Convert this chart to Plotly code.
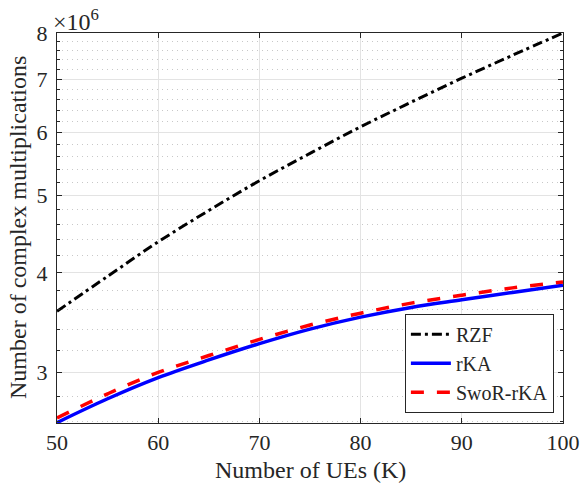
import plotly.graph_objects as go
import numpy as np

K = [50, 55, 60, 65, 70, 75, 80, 85, 90, 95, 100]
rzf = [3.58e6, 3.96e6, 4.375e6, 4.79e6, 5.22e6, 5.65e6, 6.10e6, 6.55e6, 7.02e6, 7.50e6, 8.0e6]
rka = [2.595e6, 2.78e6, 2.955e6, 3.11e6, 3.26e6, 3.40e6, 3.52e6, 3.62e6, 3.70e6, 3.78e6, 3.86e6]
swor_rka = [2.63e6, 2.82e6, 3.0e6, 3.15e6, 3.30e6, 3.44e6, 3.56e6, 3.665e6, 3.75e6, 3.83e6, 3.896e6]

major_y = [3e6, 4e6, 5e6, 6e6, 7e6, 8e6]
major_y_text = ["3", "4", "5", "6", "7", "8"]
minor_y = [v * 1e5 for v in range(26, 81, 2) if v % 10 != 0]
x_ticks = [50, 60, 70, 80, 90, 100]
x_title = "Number of UEs (K)"
y_title = "Number of complex multiplications"

FONT = "Liberation Serif"
TXT = "#262626"

fig = go.Figure()
fig.add_trace(go.Scatter(x=K, y=rzf, mode="lines", name="RZF",
                         line=dict(color="black", width=3, dash="10px,4px,3px,4px", shape="spline")))
fig.add_trace(go.Scatter(x=K, y=rka, mode="lines", name="rKA",
                         line=dict(color="#0000ff", width=3.5, shape="spline")))
fig.add_trace(go.Scatter(x=K, y=swor_rka, mode="lines", name="SwoR-rKA",
                         line=dict(color="#ff0000", width=3.5, dash="13px,13px", shape="spline")))

fig.update_layout(
    width=584, height=485,
    margin=dict(l=57, r=21, t=33, b=62, autoexpand=False),
    paper_bgcolor="white", plot_bgcolor="white",
    font=dict(family=FONT, size=22, color=TXT),
    showlegend=True,
    legend=dict(x=0.982, y=0.026, xanchor="right", yanchor="bottom",
                bgcolor="white", bordercolor=TXT, borderwidth=1,
                font=dict(family=FONT, size=20, color=TXT),
                tracegroupgap=0, itemwidth=40),
)
fig.update_xaxes(
    range=[50, 100], tickvals=x_ticks, ticktext=[str(v) for v in x_ticks],
    showline=True, linecolor=TXT, linewidth=1, mirror="ticks",
    ticks="inside", ticklen=5, tickcolor=TXT, automargin=False,
    showgrid=True, gridcolor="#e3e3e3", gridwidth=1,
    zeroline=False, ticklabelstandoff=0,
    tickfont=dict(family=FONT, size=22, color=TXT),
)
fig.update_yaxes(
    type="log", range=[np.log10(2.592e6), np.log10(8e6)],
    tickvals=major_y, ticktext=major_y_text,
    showline=True, linecolor=TXT, linewidth=1, mirror="ticks",
    ticks="inside", ticklen=5, tickcolor=TXT, automargin=False,
    showgrid=True, gridcolor="#e3e3e3", gridwidth=1,
    zeroline=False, ticklabelstandoff=4,
    minor=dict(tickmode="array", tickvals=minor_y, ticks="inside", ticklen=3,
               tickcolor=TXT, showgrid=True, gridcolor="#c8c8c8", griddash="1px,4px", gridwidth=1),
    tickfont=dict(family=FONT, size=22, color=TXT),
)
fig.add_annotation(text=y_title, xref="paper", yref="paper", x=0.0, y=0.5,
                   xanchor="center", yanchor="middle", textangle=-90, showarrow=False,
                   font=dict(family=FONT, size=24, color=TXT), xshift=-39)
fig.add_annotation(text=x_title, xref="paper", yref="paper", x=0.5, y=0.0,
                   xanchor="center", yanchor="middle", showarrow=False,
                   font=dict(family=FONT, size=24, color=TXT), yshift=-47)
fig.add_annotation(text="×10<sup>6</sup>", xref="paper", yref="paper", x=0.0, y=1.0,
                   xanchor="left", yanchor="bottom", showarrow=False,
                   font=dict(family=FONT, size=24, color=TXT), xshift=-6, yshift=-4)

fig.write_html("out.html", config={"displayModeBar": False},
               post_script="document.body.style.margin='0px';")
